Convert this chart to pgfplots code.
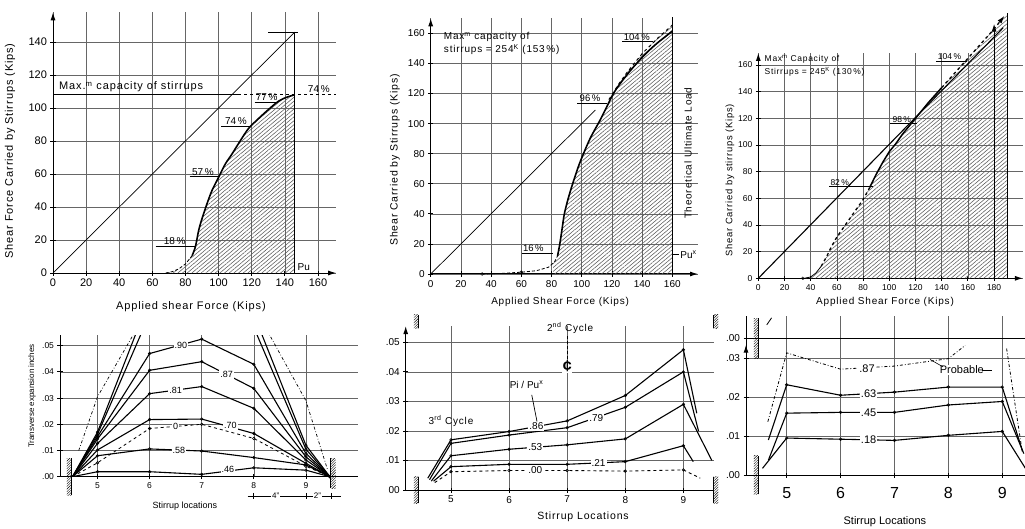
\documentclass[border=0pt]{standalone}
\usepackage{fontspec}
\setmainfont{Liberation Sans}
\newfontfamily\lbl[LetterSpace=8]{Liberation Sans}
\usepackage{pgfplots}
\pgfplotsset{compat=1.18}
\usetikzlibrary{arrows.meta,patterns.meta}
\newcommand{\fs}[1]{\fontsize{#1}{#1}\selectfont}
\tikzset{
  arr/.style={-{Latex[length=8pt,width=5pt]}},
  noarr/.style={-},
  hatch/.style={draw=none, pattern={Lines[angle=40,distance=3pt,line width=0.55pt]}, pattern color=black!65},
  wall/.style={pattern={Lines[angle=45,distance=1.8pt,line width=0.4pt]}, pattern color=black},
  lab/.style={fill=white, inner sep=1pt},
  ul/.style={line width=0.7pt},
}
\pgfplotsset{
  panel/.style={scale only axis, anchor=south west, axis lines=left,
    axis line style={line width=1pt, black},
    tick align=center, major tick length=5pt,
    tick style={line width=0.8pt, black},
    grid=major, major grid style={line width=0.55pt, black!60},
    clip mode=individual,
    /pgf/number format/assume math mode=true,
    xlabel style={anchor=center}, ylabel style={anchor=center},
  },
  st/.style={line width=1.1pt, black, mark=o, mark size=1.3pt, mark indices={2,3,4,5,6}, mark options={solid, fill=white, line width=0.6pt}},
}
\begin{document}
\begin{tikzpicture}
\path[use as bounding box] (0pt,0pt) rectangle (1025pt,528pt);

% ---------------- Panel 1 ----------------
\begin{axis}[panel, at={(53pt,255pt)}, width=283.2pt, height=260.7pt,
  xmin=0, xmax=171, ymin=0, ymax=158, clip=false,
  x axis line style={arr}, y axis line style={arr},
  xtick={0,20,...,160}, ytick={0,20,...,140},
  ticklabel style={font=\fs{11}},
  xlabel={Applied shear Force (Kips)}, ylabel={Shear Force Carried by Stirrups (Kips)},
  xlabel style={at={(axis description cs:0.487,-0.13)}, font=\lbl\fs{11}},
  ylabel style={at={(axis description cs:-0.152,0.468)}, font=\lbl\fs{11}},
]
\addplot[hatch] coordinates {(68,0)(72,0.8)(76,2.5)(80,5.5)(84,10.5)(86,16)(88,26)(90,33)(93,42)(96,50)(100,58)(104,66)(108,72)(113,80)(118,87.5)(124,93.5)(130,99)(136,104)(141,106.5)(146,108)(146,0)} -- cycle;
\addplot[line width=0.7pt] coordinates {(0,0)(146,146)};
\addplot[line width=1pt] coordinates {(146,0)(146,146)};
\addplot[line width=0.8pt] coordinates {(130,146)(148,146)};
\addplot[line width=0.8pt] coordinates {(0,108)(112,108)};
\addplot[line width=0.8pt, dashed] coordinates {(112,108)(171,108)};
\addplot[line width=0.8pt, densely dashed] coordinates {(68,0)(72,0.8)(76,2.5)(80,5.5)(84,10.5)};
\addplot[line width=1.6pt, smooth, tension=0.5] coordinates {(84,10.5)(86,16)(88,26)(90,33)(93,42)(96,50)(100,58)(104,66)(108,72)(113,80)(118,87.5)(124,93.5)(130,99)(136,104)(141,106.5)(146,108)};
\node[anchor=south west, inner sep=1pt, font=\lbl\fs{11}] at (axis cs:3,108.8) {Max.\textsuperscript{m} capacity of stirrups};
\draw[ul] (axis cs:62,16) -- (axis cs:85.5,16);
\node[anchor=south, inner sep=1pt, font=\fs{10}] at (axis cs:73.5,16.2) {18\,\%};
\draw[ul] (axis cs:82.5,58.4) -- (axis cs:100.6,58.4);
\node[anchor=south, inner sep=1pt, font=\fs{10}] at (axis cs:90.5,58.6) {57\,\%};
\draw[ul] (axis cs:101.6,89) -- (axis cs:118.7,89);
\node[anchor=south, inner sep=1pt, font=\fs{10}] at (axis cs:110.5,89.2) {74\,\%};
\draw[ul] (axis cs:121.7,103.6) -- (axis cs:136,103.6);
\node[anchor=south, inner sep=1pt, font=\fs{10}] at (axis cs:129,103.8) {77\,\%};
\node[anchor=south, inner sep=1pt, font=\fs{10}] at (axis cs:160.5,108.6) {74\,\%};
\node[anchor=south west, inner sep=1pt, font=\fs{10}] at (axis cs:147,1) {Pu};
\end{axis}

% ---------------- Panel 2 ----------------
\begin{axis}[panel, at={(430.7pt,254pt)}, width=267.3pt, height=255.7pt,
  xmin=0, xmax=177, ymin=0, ymax=170, clip=false,
  x axis line style={arr}, y axis line style={arr},
  xtick={0,20,...,160}, ytick={0,20,...,160},
  ticklabel style={font=\fs{10}},
  xlabel={Applied Shear Force (Kips)}, ylabel={Shear Carried by Stirrups (Kips)},
  xlabel style={at={(axis description cs:0.484,-0.1095)}, font=\lbl\fs{10}},
  ylabel style={at={(axis description cs:-0.134,0.446)}, font=\lbl\fs{10.5}},
]
\addplot[hatch] coordinates {(81,0)(81,7)(84,12)(85.5,20)(87,30)(88.5,40)(91,50)(94,60)(98,72)(102,82)(106,91)(112,102)(116,110)(121,120)(125,127)(130,134)(140,146.5)(150,156.5)(160,165.5)(160,0)} -- cycle;
\addplot[line width=0.7pt] coordinates {(0,0)(109,109)};
\addplot[line width=1.2pt] coordinates {(160,0)(160,171)};
\addplot[line width=0.8pt, densely dashed] coordinates {(34,0)(45,0.3)(60,1.2)(70,2.2)(78,4.5)(82,8)(84,12)};
\addplot[only marks, mark=o, mark size=1.5pt, mark options={fill=white}] coordinates {(34,0)(60,1.2)};
\addplot[line width=1.6pt, smooth, tension=0.5] coordinates {(84,12)(85.5,20)(87,30)(88.5,40)(91,50)(94,60)(98,72)(102,82)(106,91)(112,102)(116,110)(121,120)(125,126)(130,132.5)(135,138.5)(140,144)(145,149)(150,153.5)(155,157.5)(160,161.5)};
\addplot[line width=1pt, dashed] coordinates {(118,116)(125,127)(130,134)(140,146.5)(150,156.5)(160,165.5)};
\draw[line width=0.8pt] (axis cs:160,13) -- (axis cs:164.5,13);
\node[anchor=west, inner sep=1pt, font=\fs{10}] at (axis cs:164.5,13) {Pu\textsuperscript{x}};
\node[rotate=90, font=\lbl\fs{10}] at (axis cs:170.4,80.3) {Theoretical Ultimate Load};
\node[anchor=north west, align=left, inner sep=1pt, font=\lbl\fontsize{10}{13}\selectfont] at (axis cs:8,161.5) {Max\textsuperscript{m} capacity of\\ stirrups = 254\textsuperscript{K} (153\,\%)};
\draw[ul] (axis cs:60.3,13.7) -- (axis cs:81.2,13.7);
\node[anchor=south, inner sep=1pt, font=\fs{9.5}] at (axis cs:68,13.9) {16\,\%};
\draw[ul] (axis cs:97.1,113.5) -- (axis cs:116.6,113.5);
\node[anchor=south, inner sep=1pt, font=\fs{9.5}] at (axis cs:105.5,113.7) {96\,\%};
\draw[ul] (axis cs:127,154.5) -- (axis cs:147.5,154.5);
\node[anchor=south, inner sep=1pt, font=\fs{9.5}] at (axis cs:136.5,154.7) {104\,\%};
\end{axis}

% ---------------- Panel 3 ----------------
\begin{axis}[panel, at={(758.3pt,249.7pt)}, width=264.6pt, height=225.3pt,
  xmin=0, xmax=202, ymin=0, ymax=169, clip=false,
  x axis line style={arr}, y axis line style={arr},
  xtick={0,20,...,180}, ytick={0,20,...,160},
  ticklabel style={font=\fs{8.5}},
  xlabel={Applied Shear Force (Kips)}, ylabel={Shear Carried by stirrups (Kips)},
  xlabel style={at={(axis description cs:0.479,-0.105)}, font=\lbl\fs{10}},
  ylabel style={at={(axis description cs:-0.107,0.436)}, font=\lbl\fs{9.4}},
]
\addplot[hatch] coordinates {(35,0)(40,1)(44,4)(48,9)(52,16)(56,24)(60,31)(65,38)(70,45)(75,52)(80,59)(85,68)(90,78)(95,87)(100,95)(105,101)(110,108)(115,114)(120,120)(130,132)(140,143)(150,154)(160,165)(170,176)(180,187)(188,197)(190,199)(190,0)} -- cycle;
\addplot[line width=1.1pt] coordinates {(0,0)(187,188)};
\addplot[line width=1pt, arr] coordinates {(180,0)(180,191)};
\addplot[line width=0.5pt] coordinates {(190,0)(190,199)};
\addplot[line width=0.8pt] coordinates {(35,0)(40,1)(44,4)(48,9)};
\addplot[only marks, mark=o, mark size=1.4pt, mark options={fill=white}] coordinates {(34,0)};
\addplot[line width=1.3pt, dashed] coordinates {(48,9)(52,16)(56,24)(60,31)(65,38)(70,45)(75,52)(80,59)(85,68)};
\addplot[line width=1.5pt] coordinates {(85,68)(90,78)(95,87)(100,95)(105,101)(110,108)(115,114)(120,120)(130,132)(140,143)};
\addplot[line width=1.3pt, dashed, arr] coordinates {(140,143)(150,154)(160,165)(170,176)(180,187)(188,197)};
\node[anchor=north west, align=left, inner sep=1pt, font=\lbl\fontsize{8.5}{13}\selectfont] at (axis cs:4,168.5) {Max\textsuperscript{m} Capacity of\\ Stirrups = 245\textsuperscript{K} (130\,\%)};
\draw[ul] (axis cs:54.2,68.8) -- (axis cs:87.8,68.8);
\node[anchor=south west, inner sep=1pt, font=\fs{8.5}] at (axis cs:54.2,69) {82\,\%};
\draw[ul] (axis cs:100.5,116) -- (axis cs:120.9,116);
\node[anchor=south, inner sep=1pt, font=\fs{8.5}] at (axis cs:109.5,116.2) {98\,\%};
\draw[ul] (axis cs:135.6,163) -- (axis cs:159,163);
\node[anchor=south, inner sep=1pt, font=\fs{8.5}] at (axis cs:146,163.2) {104\,\%};
\end{axis}

% ---------------- Panel 4 ----------------
\begin{axis}[panel, at={(60pt,51.3pt)}, width=298pt, height=141.5pt,
  xmin=4.28, xmax=10, ymin=0, ymax=0.054,
  x axis line style={noarr}, y axis line style={noarr},
  xtick={5,6,7,8,9}, ytick={0,0.01,0.02,0.03,0.04,0.05},
  yticklabels={.00,.01,.02,.03,.04,.05}, scaled y ticks=false,
  ticklabel style={font=\fs{8.5}},
  xlabel={Stirrup locations}, ylabel={Transverse expansion inches},
  xlabel style={at={(axis description cs:0.419,-0.205)}, font=\fs{9}},
  ylabel style={at={(axis description cs:-0.094,0.57)}, font=\fs{8}},
]
\addplot[st] coordinates {(4.52,0)(5,0.0019)(6,0.0019)(7,0.0009)(8,0.0034)(9,0.0025)(9.46,0)};
\addplot[st] coordinates {(4.52,0)(5,0.008)(6,0.0106)(7,0.0098)(8,0.0073)(9,0.0045)(9.46,0)};
\addplot[st, line width=0.8pt, dashed] coordinates {(4.52,0)(5,0.0053)(6,0.0184)(7,0.020)(8,0.0146)(9,0.004)(9.46,0)};
\addplot[st] coordinates {(4.52,0)(5,0.0102)(6,0.0218)(7,0.022)(8,0.0165)(9,0.0051)(9.46,0)};
\addplot[st] coordinates {(4.52,0)(5,0.0127)(6,0.0317)(7,0.0344)(8,0.0261)(9,0.0064)(9.46,0)};
\addplot[st] coordinates {(4.52,0)(5,0.0144)(6,0.0406)(7,0.0439)(8,0.0337)(9,0.0076)(9.46,0)};
\addplot[st] coordinates {(4.52,0)(5,0.0153)(6,0.047)(7,0.0525)(8,0.0429)(9,0.0089)(9.46,0)};
\addplot[st] coordinates {(4.52,0)(5,0.0162)(6,0.062)(7,0.075)(8,0.057)(9,0.0105)(9.46,0)};
\addplot[st] coordinates {(4.52,0)(5,0.017)(6,0.068)(7,0.08)(8,0.062)(9,0.012)(9.46,0)};
\addplot[line width=0.7pt, dash dot] coordinates {(4.64,0.010)(5,0.0305)(6,0.065)(8,0.065)(9,0.029)(9.41,0.003)};
\node[lab, font=\fs{9}] at (axis cs:6.6,0.0502) {.90};
\node[lab, font=\fs{9}] at (axis cs:7.48,0.039) {.87};
\node[lab, font=\fs{9}] at (axis cs:6.5,0.033) {.81};
\node[lab, font=\fs{9}] at (axis cs:6.5,0.0193) {0};
\node[lab, font=\fs{9}] at (axis cs:7.55,0.0195) {.70};
\node[lab, font=\fs{9}] at (axis cs:6.56,0.0101) {.58};
\node[lab, font=\fs{9}] at (axis cs:7.5,0.0028) {.46};
\fill[wall] (axis cs:4.41,-0.007) rectangle (axis cs:4.5,0.007);
\draw[line width=1pt] (axis cs:4.5,-0.007) -- (axis cs:4.5,0.007);
\fill[wall] (axis cs:9.48,-0.0045) rectangle (axis cs:9.57,0.007);
\draw[line width=1pt] (axis cs:9.48,-0.0045) -- (axis cs:9.48,0.007);
\draw[line width=0.6pt] (axis cs:7.88,-0.0074) -- (axis cs:9.68,-0.0074);
\draw[line width=0.8pt] (axis cs:8,-0.0062) -- (axis cs:8,-0.0086);
\draw[line width=0.8pt] (axis cs:9,-0.0062) -- (axis cs:9,-0.0086);
\draw[line width=0.8pt] (axis cs:9.48,-0.0062) -- (axis cs:9.48,-0.0086);
\node[lab, font=\fs{8}] at (axis cs:8.42,-0.0074) {4"};
\node[lab, font=\fs{8}] at (axis cs:9.22,-0.0074) {2"};
\end{axis}

% ---------------- Panel 5 ----------------
\begin{axis}[panel, at={(405.7pt,38pt)}, width=307.9pt, height=163.9pt,
  xmin=4.22, xmax=9.52, ymin=0, ymax=0.0555,
  x axis line style={noarr}, y axis line style={arr},
  xtick={5,6,7,8,9}, ytick={0,0.01,0.02,0.03,0.04,0.05},
  yticklabels={00,.01,.02,.03,.04,.05}, scaled y ticks=false,
  ticklabel style={font=\fs{10}},
  xlabel={Stirrup Locations},
  xlabel style={at={(axis description cs:0.576,-0.163)}, font=\lbl\fs{10.5}},
]
\addplot[st] coordinates {(4.6,0.004)(5,0.017)(6,0.0198)(7,0.0234)(8,0.032)(9,0.0475)(9.23,0.026)};
\addplot[st] coordinates {(4.63,0.0035)(5,0.0158)(6,0.0186)(7,0.0211)(8,0.028)(9,0.040)(9.26,0.020)};
\addplot[st] coordinates {(4.66,0.003)(5,0.0116)(6,0.0138)(7,0.0153)(8,0.0173)(9,0.029)(9.49,0.010)};
\addplot[st] coordinates {(4.7,0.003)(5,0.0079)(6,0.0087)(7,0.0087)(8,0.0096)(9,0.015)(9.17,0.0096)};
\addplot[st, line width=0.9pt, dashed] coordinates {(4.72,0.0025)(5,0.0062)(6,0.0066)(7,0.0066)(8,0.0064)(9,0.0068)(9.29,0.004)};
\node[lab, font=\fs{10}] at (axis cs:6.47,0.0216) {.86};
\node[lab, font=\fs{10}] at (axis cs:7.5,0.0245) {.79};
\node[lab, font=\fs{10}] at (axis cs:6.45,0.0145) {.53};
\node[lab, font=\fs{10}] at (axis cs:7.54,0.0092) {.21};
\node[lab, font=\fs{10}] at (axis cs:6.45,0.0066) {.00};
\node[font=\fs{10}] at (axis cs:6.3,0.0356) {Pi / Pu\textsuperscript{x}};
\draw[line width=0.7pt] (axis cs:6.39,0.0322) -- (axis cs:6.48,0.0232);
\node[font=\lbl\fs{10}] at (axis cs:5.0,0.0234) {3\textsuperscript{rd} Cycle};
\node[font=\lbl\fs{10}] at (axis cs:7.05,0.0548) {2\textsuperscript{nd} Cycle};
\draw[line width=0.8pt, densely dashed] (axis cs:7,0.0445) -- (axis cs:7,0.0525);
\node[fill=white, inner sep=0.5pt, font=\bfseries\fs{16}] at (axis cs:7.0,0.0418) {¢};
\fill[wall] (axis cs:4.36,-0.0045) rectangle (axis cs:4.44,0.0045);
\draw[line width=1pt] (axis cs:4.44,-0.0045) -- (axis cs:4.44,0.0045);
\fill[wall] (axis cs:9.52,-0.0045) rectangle (axis cs:9.6,0.0045);
\draw[line width=1pt] (axis cs:9.52,-0.0045) -- (axis cs:9.52,0.0045);
\fill[wall] (axis cs:4.36,0.0548) rectangle (axis cs:4.44,0.0593);
\draw[line width=1pt] (axis cs:4.44,0.0548) -- (axis cs:4.44,0.0593);
\fill[wall] (axis cs:9.52,0.0548) rectangle (axis cs:9.6,0.0593);
\draw[line width=1pt] (axis cs:9.52,0.0548) -- (axis cs:9.52,0.0593);
\end{axis}

% ---------------- Panel 6 ----------------
\begin{axis}[panel, at={(746pt,53pt)}, width=278.9pt, height=159.5pt,
  xmin=4.245, xmax=9.42, ymin=0, ymax=0.041,
  x axis line style={noarr}, y axis line style={noarr},
  xtick={5,6,7,8,9}, ytick={0,0.01,0.02,0.03},
  yticklabels={.00,.01,.02,.03}, scaled y ticks=false,
  yticklabel style={font=\fs{10}}, xticklabel style={font=\fs{16}, yshift=-6pt},
  xlabel={Stirrup Locations},
  xlabel style={at={(axis description cs:0.498,-0.293)}, font=\fs{11}},
]
\addplot[line width=1pt] coordinates {(4.245,0.0351)(9.42,0.0351)};
\addplot[st] coordinates {(4.55,0.0017)(5,0.0095)(6,0.0092)(7,0.0089)(8,0.0102)(9,0.0112)(9.43,0.0017)};
\addplot[st] coordinates {(4.66,0.0038)(5,0.0159)(6,0.0161)(7,0.0161)(8,0.018)(9,0.0189)(9.40,0.0055)};
\addplot[st] coordinates {(4.66,0.009)(5,0.0232)(6,0.0205)(7,0.0213)(8,0.0226)(9,0.0226)(9.37,0.0064)};
\addplot[line width=0.8pt, dash dot] coordinates {(4.65,0.0137)(5,0.0314)(6,0.0272)(7,0.028)(8,0.0299)(8.31,0.0333)};
\addplot[line width=0.8pt, dash dot] coordinates {(9.08,0.0325)(9.37,0.006)};
\node[anchor=east, font=\fs{10}] at (axis cs:4.2,0.0351) {.00};
\draw[line width=0.8pt] (axis cs:4.2,0.0351) -- (axis cs:4.29,0.0351);
\node[lab, font=\fs{11}] at (axis cs:6.49,0.0272) {.87};
\node[lab, font=\fs{11}] at (axis cs:6.52,0.0208) {.63};
\node[lab, font=\fs{11}] at (axis cs:6.52,0.016) {.45};
\node[lab, font=\fs{11}] at (axis cs:6.52,0.0092) {.18};
\node[lab, font=\fs{11}] at (axis cs:8.25,0.027) {Probable};
\draw[line width=0.6pt] (axis cs:7.66,0.0297) -- (axis cs:7.9,0.0278);
\draw[line width=0.6pt] (axis cs:8.62,0.0268) -- (axis cs:8.8,0.0268);
\draw[line width=1pt, arr] (axis cs:4.245,0.027) -- (axis cs:4.245,0.0335);
\draw[line width=0.8pt] (axis cs:4.63,0.0386) -- (axis cs:4.72,0.0404);
\fill[wall] (axis cs:4.39,-0.005) rectangle (axis cs:4.47,0.005);
\draw[line width=1pt] (axis cs:4.47,-0.005) -- (axis cs:4.47,0.005);
\fill[wall] (axis cs:4.39,0.030) rectangle (axis cs:4.47,0.0403);
\draw[line width=1pt] (axis cs:4.47,0.030) -- (axis cs:4.47,0.0403);
\end{axis}
\end{tikzpicture}
\end{document}
